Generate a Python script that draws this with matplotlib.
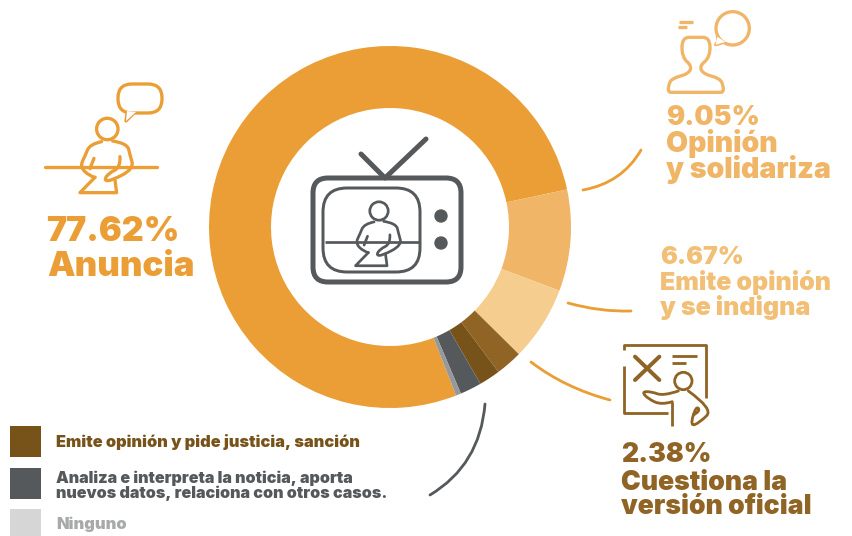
# -*- coding: utf-8 -*-
"""Donut chart of how TV newscasts present the news, with pictograms."""

import matplotlib

matplotlib.use("Agg")
import matplotlib.pyplot as plt
from matplotlib.patches import Circle, FancyBboxPatch, PathPatch, Polygon, Rectangle
from matplotlib.path import Path


WIDTH = 852
HEIGHT = 536
DPI = 100
PX = 72.0 / DPI  # points per pixel

CATEGORIES = [
    "Anuncia",
    "Opinión y solidariza",
    "Emite opinión y se indigna",
    "Cuestiona la versión oficial",
    "Emite opinión y pide justicia, sanción",
    "Analiza e interpreta la noticia",
    "Ninguno",
]
VALUES = [77.62, 9.05, 6.67, 2.38, 1.90, 1.92, 0.46]
COLORS = ["#EA9E35", "#F0B567", "#F5CD8E", "#8F6425", "#77531A", "#55595B", "#96989A"]

ORANGE = "#EA9E35"
LIGHT = "#F0B567"
PALE = "#F2BF76"
BROWN = "#8F6425"
DARK_BROWN = "#77531A"
GRAY = "#55595B"

plt.rcParams["font.family"] = ["Inter", "DejaVu Sans"]
plt.rcParams["font.weight"] = "black"


def smooth(points, closed=False):
    """Quadratic curve with the given points as control vertices."""
    if closed:
        first = ((points[-1][0] + points[0][0]) / 2, (points[-1][1] + points[0][1]) / 2)
        verts = [first]
        codes = [Path.MOVETO]
        pts = points + [points[0]]
        for a, b in zip(pts[:-1], pts[1:]):
            verts += [a, ((a[0] + b[0]) / 2, (a[1] + b[1]) / 2)]
            codes += [Path.CURVE3, Path.CURVE3]
        return Path(verts, codes)
    verts = [points[0]]
    codes = [Path.MOVETO]
    for i in range(1, len(points) - 1):
        a = points[i]
        b = points[i + 1]
        end = b if i == len(points) - 2 else ((a[0] + b[0]) / 2, (a[1] + b[1]) / 2)
        verts += [a, end]
        codes += [Path.CURVE3, Path.CURVE3]
    return Path(verts, codes)


def curve(ax, points, color, lw):
    ax.add_patch(PathPatch(smooth(points), fill=False, edgecolor=color, lw=lw * PX, capstyle="round", joinstyle="round"))


def line(ax, points, color, lw, cap="round"):
    xs, ys = zip(*points)
    ax.plot(xs, ys, color=color, lw=lw * PX, solid_capstyle=cap, solid_joinstyle="round")


def person(ax, head_x, head_y, scale, color, lw):
    """Seated presenter, drawn relative to the centre of the head."""

    def at(points):
        return [(head_x + (x - 232) / 3 * scale, head_y + (y - 177) / 3 * scale) for x, y in points]

    ax.add_patch(Circle((head_x, head_y), 10.7 * scale, fill=False, edgecolor=color, lw=lw * PX))
    curve(ax, at([(215, 215), (180, 222), (165, 258), (150, 290), (178, 318), (195, 322)]), color, lw)
    line(ax, at([(192, 265), (180, 296)]), color, lw)
    curve(ax, at([(248, 213), (292, 220), (300, 255), (312, 296), (245, 332), (222, 332), (235, 310), (272, 292), (270, 260)]), color, lw)
    line(ax, at([(195, 322), (150, 368), (260, 368), (255, 330)]), color, lw)


def speech_bubble(ax):
    ax.add_patch(
        FancyBboxPatch((118, 84), 44, 29, boxstyle="round,pad=0,rounding_size=14",
                       facecolor="white", edgecolor=ORANGE, lw=3.3 * PX, zorder=3)
    )
    ax.add_patch(Polygon([(127, 111), (126, 121), (136, 112)], facecolor="white", edgecolor="none", zorder=4))
    line(ax, [(127, 113), (126, 121), (134, 113)], ORANGE, 3.3)


def draw_tv(ax):
    ax.add_patch(
        FancyBboxPatch((313, 178), 148, 104, boxstyle="round,pad=0,rounding_size=15",
                       fill=False, edgecolor=GRAY, lw=5 * PX)
    )
    ax.add_patch(
        FancyBboxPatch((323, 188), 97, 84, boxstyle="round,pad=0,rounding_size=24",
                       fill=False, edgecolor=GRAY, lw=3 * PX)
    )
    line(ax, [(361, 154), (385, 178), (426, 139)], GRAY, 5)
    ax.add_patch(Circle((441, 216), 6, color=GRAY))
    ax.add_patch(Circle((441, 243), 6, color=GRAY))
    line(ax, [(325, 242), (419, 242)], GRAY, 2.7, cap="butt")
    person(ax, 379, 211, 0.86, GRAY, 2.7)


def draw_anuncia_icon(ax):
    line(ax, [(45, 167), (157, 167)], ORANGE, 3.3)
    person(ax, 107.3, 129, 1.0, ORANGE, 3.3)
    speech_bubble(ax)


def draw_opinion_icon(ax):
    x0, y0 = 660, 0

    def at(points):
        return [(x0 + x / 3, y0 + y / 3) for x, y in points]

    ax.add_patch(Circle((x0 + 218 / 3, y0 + 85 / 3), 50 / 3, facecolor="white", edgecolor=LIGHT, lw=3.3 * PX, zorder=3))
    ax.add_patch(Polygon(at([(172, 110), (167, 134), (196, 126)]), facecolor="white", edgecolor="none", zorder=4))
    line(ax, at([(172, 110), (175, 122), (167, 134), (182, 130), (192, 125)]), LIGHT, 3.3)
    body = [(175, 277), (190, 277), (190, 258), (180, 235), (130, 222), (118, 198), (150, 172), (150, 112),
            (108, 112), (66, 112), (66, 172), (96, 198), (85, 222), (35, 235), (25, 258), (25, 277), (40, 277)]
    ax.add_patch(PathPatch(smooth(at(body), closed=True), fill=False, edgecolor=LIGHT, lw=3.3 * PX))
    line(ax, at([(58, 67), (98, 67)]), LIGHT, 3.3, cap="butt")
    line(ax, at([(55, 82), (80, 82)]), LIGHT, 3.3, cap="butt")


def draw_presenter_icon(ax):
    x0, y0 = 610, 335

    def at(points):
        return [(x0 + x / 3, y0 + y / 3) for x, y in points]

    line(ax, at([(42, 45), (42, 30), (287, 30), (287, 190)]), BROWN, 2.8, cap="butt")
    line(ax, at([(42, 92), (42, 235), (175, 235)]), BROWN, 2.8, cap="butt")
    line(ax, at([(187, 200), (187, 272)]), BROWN, 2.8, cap="butt")
    line(ax, at([(75, 65), (148, 135)]), BROWN, 4)
    line(ax, at([(148, 65), (75, 135)]), BROWN, 4)
    line(ax, at([(185, 62), (260, 62)]), BROWN, 2.8, cap="butt")
    line(ax, at([(185, 85), (228, 85)]), BROWN, 2.8, cap="butt")
    ax.add_patch(Circle((x0 + 220 / 3, y0 + 138 / 3), 26 / 3, fill=False, edgecolor=BROWN, lw=2.8 * PX))
    curve(ax, at([(205, 168), (160, 183), (125, 170), (95, 170), (115, 192), (155, 210), (187, 200)]), BROWN, 2.8)
    curve(ax, at([(235, 168), (310, 222), (270, 262), (240, 275), (258, 212), (272, 228), (250, 240)]), BROWN, 2.8)


def put_lines(ax, x, baselines, lines, size, color):
    for y, text in zip(baselines, lines):
        ax.text(x, y, text, fontsize=size, color=color, va="baseline", ha="left")


def main():
    fig = plt.figure(figsize=(WIDTH / DPI, HEIGHT / DPI), dpi=DPI)

    # overlay in image pixels for the pictograms, leaders and labels
    ax = fig.add_axes([0, 0, 1, 1])
    ax.set_xlim(0, WIDTH)
    ax.set_ylim(HEIGHT, 0)
    ax.axis("off")

    donut = fig.add_axes([(390 - 181) / WIDTH, 1 - (227 + 181) / HEIGHT, 362 / WIDTH, 362 / HEIGHT])
    donut.pie(
        VALUES,
        colors=COLORS,
        startangle=291.4,
        counterclock=False,
        radius=1.0,
        wedgeprops={"width": 62 / 181, "linewidth": 0},
    )
    donut.set_xlim(-1, 1)
    donut.set_ylim(-1, 1)
    donut.set_zorder(0)
    ax.set_zorder(1)
    ax.patch.set_visible(False)

    draw_tv(ax)
    draw_anuncia_icon(ax)
    draw_opinion_icon(ax)
    draw_presenter_icon(ax)

    curve(ax, [(641, 150), (622, 183), (583, 190)], ORANGE, 2.8)
    curve(ax, [(568, 303), (600, 312), (631, 311)], ORANGE, 2.8)
    curve(ax, [(531, 362), (565, 388), (610, 400)], ORANGE, 2.8)
    curve(ax, [(485, 404), (480, 465), (430, 495)], GRAY, 2.8)

    put_lines(ax, 46, [241, 276], ["77.62%"], 24.5, ORANGE)
    put_lines(ax, 47, [276], ["Anuncia"], 25, ORANGE)
    put_lines(ax, 666, [125], ["9.05%"], 19.5, LIGHT)
    put_lines(ax, 666, [152, 178], ["Opinión", "y solidariza"], 20.5, LIGHT)
    put_lines(ax, 660, [264, 290, 315], ["6.67%", "Emite opinión", "y se indigna"], 18, PALE)
    put_lines(ax, 621, [462, 490, 514], ["2.38%", "Cuestiona la", "versión oficial"], 19.1, BROWN)

    ax.add_patch(Rectangle((10, 426), 31, 31, color=DARK_BROWN, lw=0))
    ax.add_patch(Rectangle((10, 468), 31, 31, color=GRAY, lw=0))
    ax.add_patch(Rectangle((10, 509), 31, 27, color="#D5D6D5", lw=0))
    put_lines(ax, 56, [447], ["Emite opinión y pide justicia, sanción"], 11.75, DARK_BROWN)
    put_lines(ax, 56, [483, 498], ["Analiza e interpreta la noticia, aporta", "nuevos datos, relaciona con otros casos."], 11.6, GRAY)
    put_lines(ax, 56, [529], ["Ninguno"], 11.8, "#A8A9A9")

    fig.savefig("out.png", dpi=DPI)
    plt.close(fig)


if __name__ == "__main__":
    main()
